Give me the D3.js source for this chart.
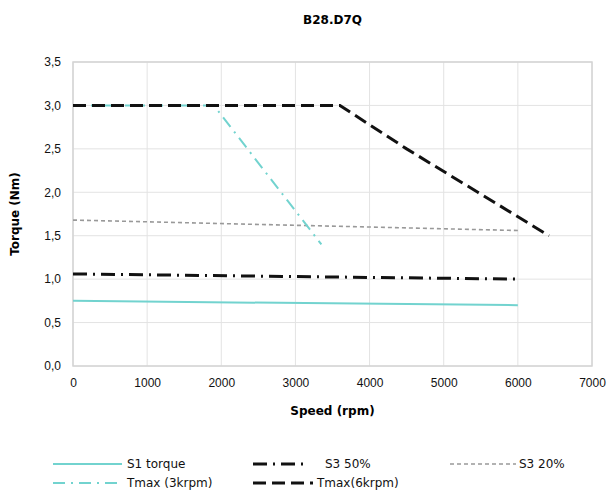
<!DOCTYPE html>
<html>
<head>
<meta charset="utf-8">
<script src="https://cdn.jsdelivr.net/npm/d3@7"></script>
<style>
  body { margin: 0; background: #fff; }
  svg { font-family: "DejaVu Sans", Verdana, sans-serif; }
</style>
</head>
<body>
<div id="chart"></div>
<script>
// chart values
const xTicks = [0, 1000, 2000, 3000, 4000, 5000, 6000, 7000];
const yTicks = [0, 0.5, 1.0, 1.5, 2.0, 2.5, 3.0, 3.5];

const s1Torque = [[0, 0.75], [6000, 0.70]];
const s3_50 = [[0, 1.06], [6000, 1.00]];
const s3_20 = [[0, 1.68], [6000, 1.56]];
const tmax3k = [[0, 3.0], [1900, 3.0], [3350, 1.40]];
const tmax6k = [[0, 3.0], [3600, 3.0], [4500, 2.5], [5460, 2.0], [6420, 1.5]];

const series = [
    { name: 'S1 torque', data: s1Torque, color: '#72d3cf', width: 2, dash: null },
    { name: 'S3 20%', data: s3_20, color: '#999', width: 1.6, dash: '4,3' },
    { name: 'S3 50%', data: s3_50, color: '#111', width: 3, dash: '14,6,2,6' },
    { name: 'Tmax (3krpm)', data: tmax3k, color: '#72d3cf', width: 2, dash: '12,6,2,6' },
    { name: 'Tmax(6krpm)', data: tmax6k, color: '#111', width: 3, dash: '13,6' }
];

const width = 614, height = 497;
const margin = { top: 62, right: 22, bottom: 131, left: 73 };

const svg = d3.select('#chart')
    .append('svg')
    .attr('width', width)
    .attr('height', height);

const x = d3.scaleLinear().domain([0, 7000]).range([margin.left, width - margin.right]);
const y = d3.scaleLinear().domain([0, 3.5]).range([height - margin.bottom, margin.top]);

const fmt = d3.format('.1f');

// grid
svg.append('g')
    .selectAll('line')
    .data(yTicks)
    .enter()
    .append('line')
    .attr('x1', x(0)).attr('x2', x(7000))
    .attr('y1', d => y(d)).attr('y2', d => y(d))
    .attr('stroke', '#e3e3e3');

svg.append('g')
    .selectAll('line')
    .data(xTicks)
    .enter()
    .append('line')
    .attr('y1', y(0)).attr('y2', y(3.5))
    .attr('x1', d => x(d)).attr('x2', d => x(d))
    .attr('stroke', '#e3e3e3');

svg.append('rect')
    .attr('x', x(0)).attr('y', y(3.5))
    .attr('width', x(7000) - x(0)).attr('height', y(0) - y(3.5))
    .attr('fill', 'none')
    .attr('stroke', '#d4d4d4')
    .attr('stroke-width', 1.5);

// axes
const xAxis = svg.append('g')
    .attr('transform', `translate(0,${y(0)})`)
    .call(d3.axisBottom(x).tickValues(xTicks).tickFormat(d3.format('d')).tickSize(0).tickPadding(12));
xAxis.select('.domain').remove();
xAxis.selectAll('text').style('font-size', '12px').attr('fill', '#111').style('font-family', 'inherit');

const yAxis = svg.append('g')
    .attr('transform', `translate(${x(0)},0)`)
    .call(d3.axisLeft(y).tickValues(yTicks).tickFormat(d => fmt(d).replace('.', ',')).tickSize(0).tickPadding(12));
yAxis.select('.domain').remove();
yAxis.selectAll('text').style('font-size', '12px').attr('fill', '#111').style('font-family', 'inherit');

// lines
const line = d3.line().x(d => x(d[0])).y(d => y(d[1]));

svg.append('g')
    .selectAll('path')
    .data(series)
    .enter()
    .append('path')
    .attr('d', d => line(d.data))
    .attr('fill', 'none')
    .attr('stroke', d => d.color)
    .attr('stroke-width', d => d.width)
    .attr('stroke-dasharray', d => d.dash);

// titles
svg.append('text')
    .attr('x', (x(0) + x(7000)) / 2)
    .attr('y', 24)
    .attr('text-anchor', 'middle')
    .style('font-size', '12px')
    .style('font-weight', 'bold')
    .text('B28.D7Q');

svg.append('text')
    .attr('x', (x(0) + x(7000)) / 2)
    .attr('y', 415)
    .attr('text-anchor', 'middle')
    .style('font-size', '12px')
    .style('font-weight', 'bold')
    .text('Speed (rpm)');

svg.append('text')
    .attr('transform', `translate(19,${(y(0) + y(3.5)) / 2}) rotate(-90)`)
    .attr('text-anchor', 'middle')
    .style('font-size', '12px')
    .style('font-weight', 'bold')
    .text('Torque (Nm)');

// legend
const legendItems = [
    { s: series[0], x1: 53, x2: 122, tx: 127, y: 464 },
    { s: series[2], x1: 253, x2: 308, tx: 325, y: 464 },
    { s: series[1], x1: 450, x2: 516, tx: 519, y: 464 },
    { s: series[3], x1: 53, x2: 122, tx: 127, y: 483 },
    { s: series[4], x1: 253, x2: 313, tx: 317, y: 483 }
];

const legend = svg.append('g')
    .selectAll('g')
    .data(legendItems)
    .enter()
    .append('g');

legend.append('line')
    .attr('x1', d => d.x1).attr('x2', d => d.x2)
    .attr('y1', d => d.y).attr('y2', d => d.y)
    .attr('stroke', d => d.s.color)
    .attr('stroke-width', d => d.s.width)
    .attr('stroke-dasharray', d => d.s.dash);

legend.append('text')
    .attr('x', d => d.tx)
    .attr('y', d => d.y)
    .attr('dy', '0.35em')
    .style('font-size', '12px')
    .attr('fill', '#111')
    .text(d => d.s.name);
</script>
</body>
</html>
